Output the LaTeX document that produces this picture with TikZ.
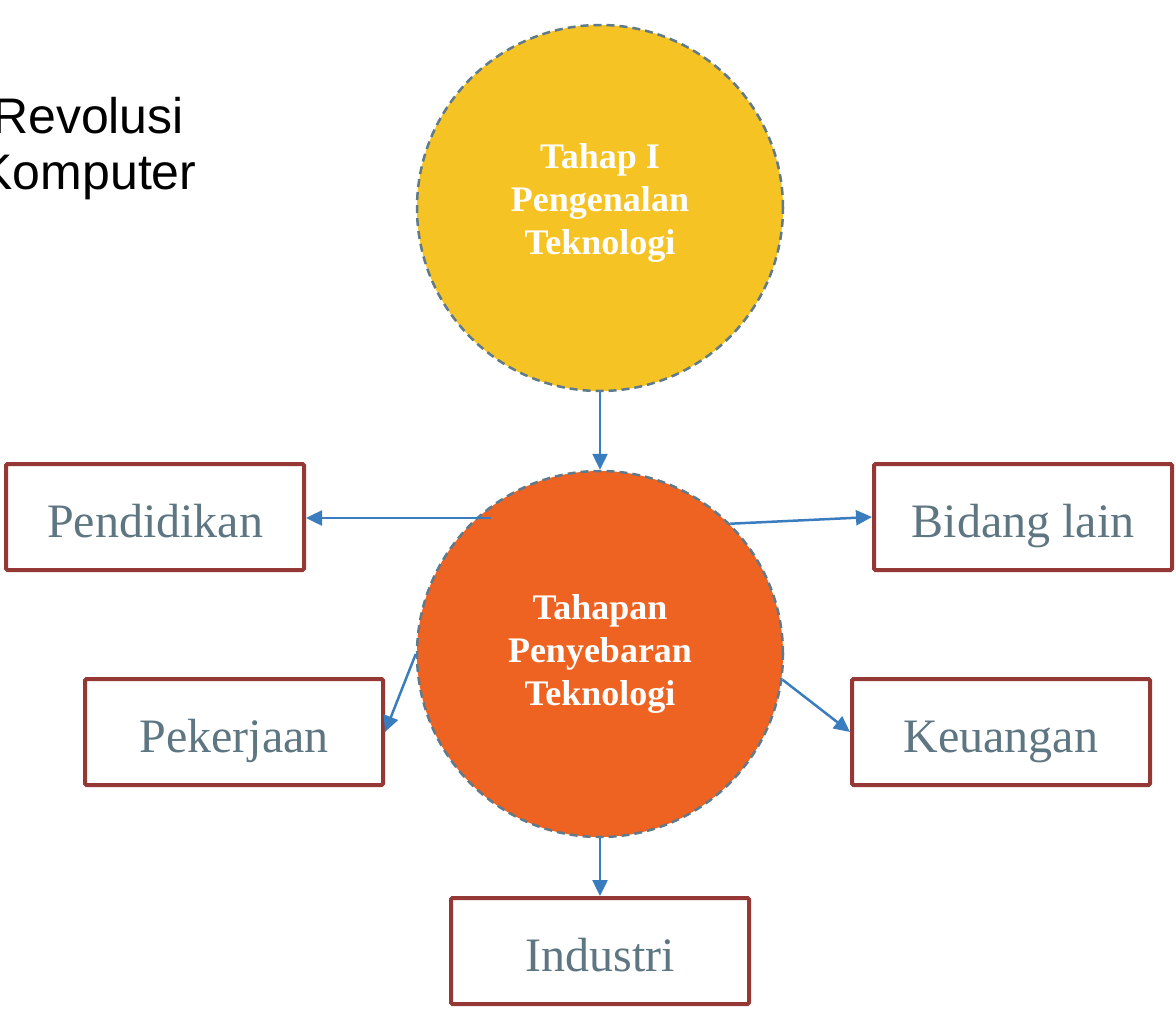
\documentclass[tikz,border=0pt]{standalone}
\usepackage{fontspec}
\setmainfont{Liberation Serif}
\newfontfamily\arialfont{Liberation Sans}
\usetikzlibrary{arrows.meta,calc}
\definecolor{yel}{HTML}{F6C324}
\definecolor{ora}{HTML}{EF6322}
\definecolor{dashc}{HTML}{5F7A8A}
\definecolor{arrc}{HTML}{3A7DBF}
\definecolor{boxc}{HTML}{953735}
\definecolor{txtc}{HTML}{5E7682}
\tikzset{
  bubble/.style={circle, minimum size=366pt, inner sep=0pt, draw=dashc, line width=2.5pt, dash pattern=on 8pt off 5pt, text=white, align=center, font=\fontsize{36}{43}\selectfont\bfseries},
  itembox/.style={rectangle, draw=boxc, line width=4pt, fill=white, minimum width=298pt, minimum height=106pt, text=txtc, font=\fontsize{48}{56}\selectfont, rounded corners=1.5pt, text height=40pt, text depth=0pt},
  conn/.style={draw=arrc, line width=2.5pt, -{Triangle[length=16pt,width=15pt]}}
}
\begin{document}
\begin{tikzpicture}[x=1pt,y=-1pt]
\useasboundingbox (0,0) rectangle (1176,1009);
\node[anchor=base, align=center, font=\arialfont\fontsize{50}{56}\selectfont, text=black, inner sep=0pt] (title) at (88,189) {Revolusi\\Komputer};
\node[bubble, fill=yel] (c1) at (600,208) {Tahap I\\Pengenalan\\Teknologi\\[-38pt]\strut};
\node[bubble, fill=ora] (c2) at (600,654) {Tahapan\\Penyebaran\\Teknologi};
\node[itembox] (pend) at (155,517) {Pendidikan};
\node[itembox] (bid) at (1023,517) {Bidang lain};
\node[itembox] (pek) at (234,732) {Pekerjaan};
\node[itembox] (keu) at (1001,732) {Keuangan};
\node[itembox] (ind) at (600,951) {Industri};
\coordinate (pstart) at (491,518);
\draw[conn] (c1.south) -- (c2.north);
\draw[conn] (pstart) -- (pend.east |- pstart);
\draw[conn] (c2.45) -- (bid.west);
\draw[conn] (c2.180) -- (pek.east);
\draw[conn] (c2.-8) -- (keu.west);
\draw[conn] (c2.south) -- (ind.north);
\end{tikzpicture}
\end{document}
